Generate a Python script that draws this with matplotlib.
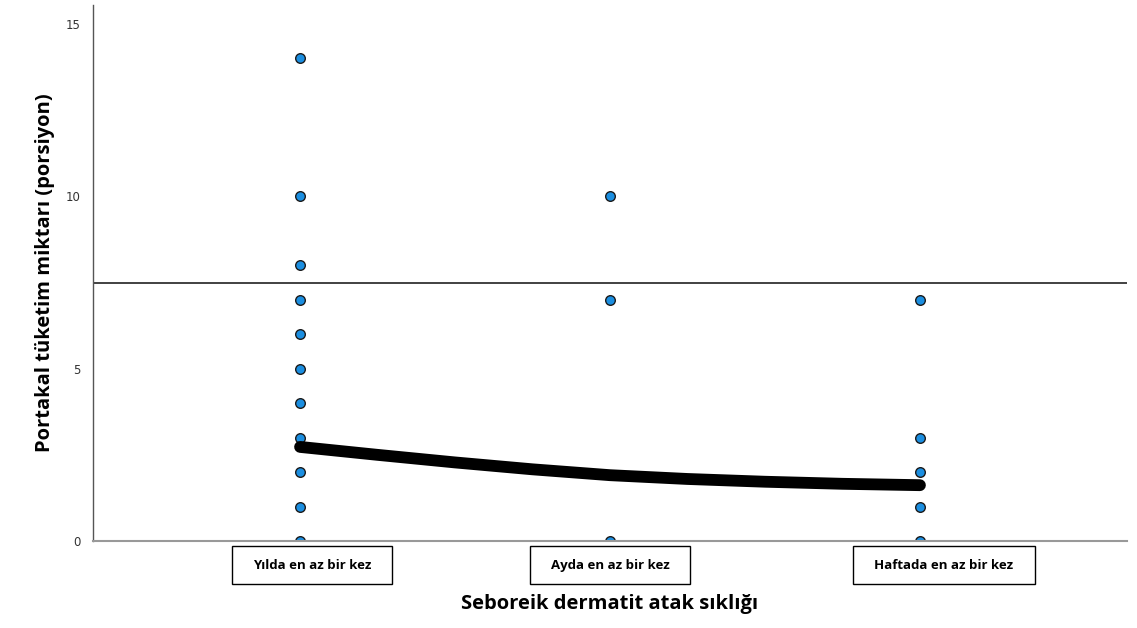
import numpy as np
import matplotlib.pyplot as plt
from matplotlib.patches import Rectangle
import matplotlib.transforms as mtransforms

# categories and observed values
categories = ["Yılda en az bir kez", "Ayda en az bir kez", "Haftada en az bir kez"]
yil_values = [14, 10, 8, 7, 6, 5, 4, 3, 2, 1, 0]
ay_values = [10, 7, 0]
hafta_values = [7, 3, 2, 1, 0]

# smoothed fit line
fit_x = [0, 0.25, 0.5, 0.75, 1, 1.25, 1.5, 1.75, 2]
fit_y = [2.73, 2.50, 2.28, 2.08, 1.91, 1.80, 1.72, 1.66, 1.62]

ref_value = 7.5

fig = plt.figure(figsize=(11.37, 6.28), dpi=100)
ax = fig.add_axes([0.0818, 0.1385, 0.9094, 0.8535])

groups = [yil_values, ay_values, hafta_values]
for i, vals in enumerate(groups):
    ax.scatter(np.full(len(vals), i), vals, s=48, color="#1b8ee0",
               edgecolor="#1a1a1a", linewidth=1.0, zorder=3, clip_on=True)

ax.plot(fit_x, fit_y, color="black", linewidth=8.5, solid_capstyle="round",
        solid_joinstyle="round", zorder=4)
ax.axhline(ref_value, color="#333333", linewidth=1.3, zorder=2)

ax.set_xlim(-0.668, 2.668)
ax.set_ylim(0, 15.55)
ax.set_yticks([0, 5, 10, 15])
ax.set_xticks([])
ax.tick_params(axis="y", length=0, pad=9, labelsize=8.5, labelcolor="#333333")

for side in ("top", "right"):
    ax.spines[side].set_visible(False)
ax.spines["left"].set_color("#555555")
ax.spines["bottom"].set_color("#999999")
ax.spines["left"].set_linewidth(1.0)
ax.spines["bottom"].set_linewidth(1.5)
ax.spines["bottom"].set_zorder(5)

# category labels in boxes below the axis
box_centers = [0.038, 1.0, 2.077]
box_widths = [0.516, 0.516, 0.587]
trans = mtransforms.blended_transform_factory(ax.transData, ax.transAxes)
box_top, box_h = -0.0093, 0.0709
for cat, c, w in zip(categories, box_centers, box_widths):
    ax.add_patch(Rectangle((c - w / 2, box_top - box_h), w, box_h, transform=trans,
                           facecolor="white", edgecolor="black", linewidth=1.0,
                           clip_on=False))
    ax.text(c, box_top - box_h / 2, cat, transform=trans, ha="center", va="center",
            fontsize=9.5, fontweight="bold", family="Open Sans")

ax.text(1.0, -0.118, "Seboreik dermatit atak sıklığı", transform=trans,
        ha="center", va="center", fontsize=14.5, fontweight="bold", family="Open Sans")
ax.set_ylabel("Portakal tüketim miktarı (porsiyon)", fontsize=14.5, fontweight="bold",
              family="Open Sans", labelpad=8)

fig.savefig("out.png", dpi=100)
